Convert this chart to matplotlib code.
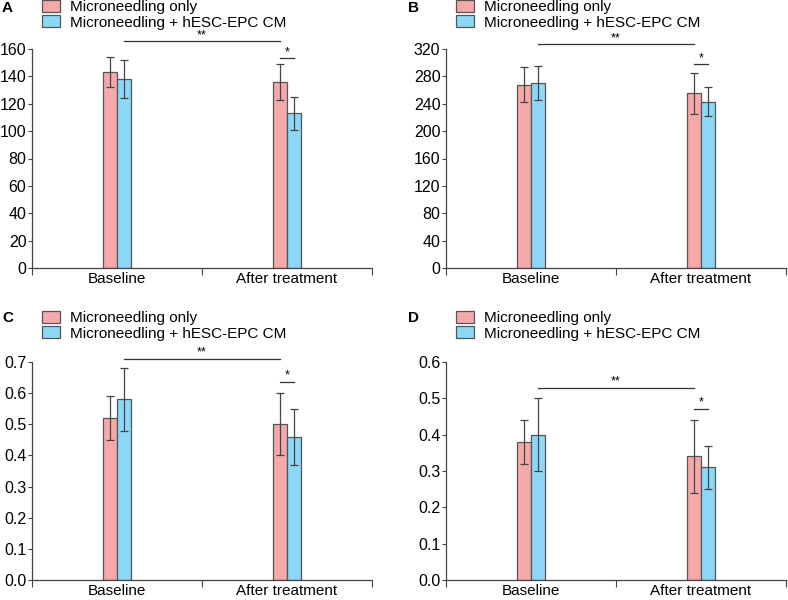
import numpy as np
import matplotlib
matplotlib.use('Agg')
import matplotlib.pyplot as plt
from matplotlib.patches import Patch

plt.rcParams['font.family'] = ['Liberation Sans', 'DejaVu Sans']

groups = ['Baseline', 'After treatment']
series_names = ['Microneedling only', 'Microneedling + hESC-EPC CM']
colors = ['#f5a9ab', '#8dd8f6']

# panel A
a_only = [143, 136]
a_only_err = [11, 13]
a_cm = [138, 113]
a_cm_err = [14, 12]
# panel B
b_only = [268, 255]
b_only_err = [25, 30]
b_cm = [270, 243]
b_cm_err = [25, 21]
# panel C
c_only = [0.52, 0.50]
c_only_err = [0.07, 0.10]
c_cm = [0.58, 0.46]
c_cm_err = [0.10, 0.09]
# panel D
d_only = [0.38, 0.34]
d_only_err = [0.06, 0.10]
d_cm = [0.40, 0.31]
d_cm_err = [0.10, 0.06]

panels = [
    ('A', a_only, a_only_err, a_cm, a_cm_err, np.arange(0, 161, 20), 160, '{:.0f}', 165.8, 153.4),
    ('B', b_only, b_only_err, b_cm, b_cm_err, np.arange(0, 321, 40), 320, '{:.0f}', 327, 298),
    ('C', c_only, c_only_err, c_cm, c_cm_err, np.arange(0, 0.71, 0.1), 0.7, '{:.1f}', 0.710, 0.636),
    ('D', d_only, d_only_err, d_cm, d_cm_err, np.arange(0, 0.61, 0.1), 0.6, '{:.1f}', 0.529, 0.471),
]

W, H = 788, 600
fig = plt.figure(figsize=(W / 100, H / 100), dpi=100)

boxes = [(32, 372, 49, 268), (446, 786, 49, 268), (32, 372, 362, 580), (446, 786, 362, 580)]
legend_pos = [(42, 0), (456, 0), (42, 311), (456, 311)]
letter_pos = [(2, 8), (408, 8), (2, 318), (408, 318)]

edge = '#555555'
bw = 0.083
cx = np.array([0.5, 1.5])

for (name, only, only_err, cm, cm_err, ticks, ymax, fmt, y2, y1), box, lp, tp in zip(panels, boxes, legend_pos, letter_pos):
    l, r, t, b = box
    ax = fig.add_axes([l / W, 1 - b / H, (r - l) / W, (b - t) / H])
    ax.bar(cx - bw / 2, only, bw, color=colors[0], edgecolor=edge, linewidth=0.9, zorder=2)
    ax.bar(cx + bw / 2, cm, bw, color=colors[1], edgecolor=edge, linewidth=0.9, zorder=2)
    ax.errorbar(cx - bw / 2, only, yerr=only_err, fmt='none', ecolor='#444444', elinewidth=0.9, capsize=3, capthick=0.9, zorder=3)
    ax.errorbar(cx + bw / 2, cm, yerr=cm_err, fmt='none', ecolor='#444444', elinewidth=0.9, capsize=3, capthick=0.9, zorder=3)

    ax.set_xlim(0, 2)
    ax.set_ylim(0, ymax)
    ax.set_yticks(ticks)
    ax.set_yticklabels([fmt.format(v) for v in ticks])
    ax.set_xticks([0, 1, 2])
    ax.set_xticklabels([])
    ax.set_xticks(cx, minor=True)
    ax.set_xticklabels(groups, minor=True)
    ax.tick_params(axis='x', which='minor', length=0, labelsize=11, pad=3)
    ax.tick_params(axis='x', which='major', length=5, width=0.8, color='#444444')
    ax.tick_params(axis='y', length=3, width=0.8, color='#444444', labelsize=11.5, pad=1)
    for s in ['top', 'right']:
        ax.spines[s].set_visible(False)
    for s in ['left', 'bottom']:
        ax.spines[s].set_color('#444444')
        ax.spines[s].set_linewidth(0.9)

    # significance markers
    ax.plot([cx[0] + bw / 2, cx[1] - bw / 2], [y2, y2], color='#333333', lw=0.9, clip_on=False)
    ax.text((cx[0] + cx[1]) / 2, y2, '**', ha='center', va='bottom', fontsize=9)
    ax.plot([cx[1] - bw / 2, cx[1] + bw / 2], [y1, y1], color='#333333', lw=0.9, clip_on=False)
    ax.text(cx[1], y1, '*', ha='center', va='bottom', fontsize=9)

    handles = [Patch(facecolor=colors[0], edgecolor=edge, linewidth=0.9),
               Patch(facecolor=colors[1], edgecolor=edge, linewidth=0.9)]
    fig.legend(handles, series_names, loc='upper left', bbox_to_anchor=(lp[0] / W, 1 - lp[1] / H),
               frameon=False, fontsize=11, handlelength=1.2, handleheight=0.85,
               handletextpad=0.65, labelspacing=0.05, borderpad=0, borderaxespad=0)
    fig.text(tp[0] / W, 1 - tp[1] / H, name, fontsize=11, fontweight='bold', va='center', ha='left')

fig.savefig('out.png', dpi=100)
